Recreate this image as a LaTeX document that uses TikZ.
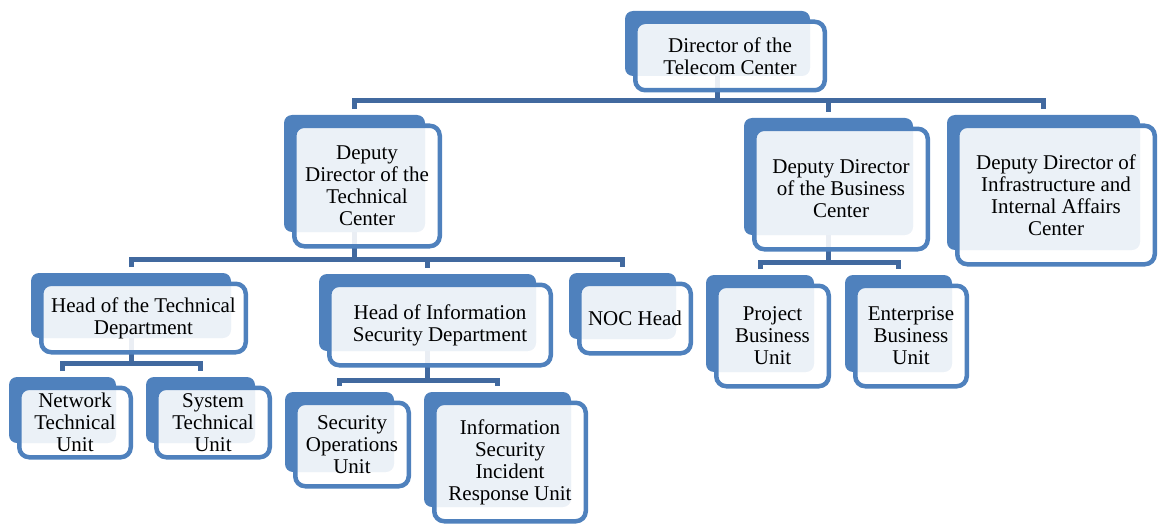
\documentclass[tikz,border=0pt]{standalone}
\usepackage{fontspec}
\setmainfont{Liberation Serif}
\pgfdeclarelayer{bk}\pgfdeclarelayer{cn}\pgfsetlayers{bk,cn,main}
\definecolor{boxblue}{HTML}{4F81BD}
\definecolor{connblue}{HTML}{41699F}
\tikzset{
 backbox/.style={fill=boxblue, rounded corners=8pt, inner sep=0pt, outer sep=0pt},
 frontbox/.style={draw=boxblue, line width=4.5pt, fill=white, fill opacity=0.89, text opacity=1, rounded corners=10pt, inner sep=0pt, outer sep=0pt, align=center, font=\rmfamily\fontsize{21}{22}\selectfont},
 conn/.style={draw=connblue, line width=5pt},
}
\newcommand\obox[6]{%
 \begin{pgfonlayer}{bk}
 \node[backbox, minimum width={(#4-#2-9)*1pt}, minimum height={(#5-#3-8)*1pt}] (#1b) at ({(#2+#4-25)/2},{(#3+#5-22)/2}) {};
 \end{pgfonlayer}
 \node[frontbox, minimum width={(#4-#2-4.5)*1pt}, minimum height={(#5-#3-4.5)*1pt}] (#1) at ({(#2+#4)/2},{(#3+#5)/2+1.5}) {#6};
}
\begin{document}
\begin{tikzpicture}[x=1pt,y=-1pt]
\useasboundingbox (0,0) rectangle (1158,524);
\obox{dir}{633}{18}{827}{91}{Director of the\\Telecom Center}
\obox{dtc}{292}{122}{442}{247}{Deputy\\Director of the\\Technical\\Center}
\obox{dbc}{752}{125}{930}{250}{Deputy Director\\of the Business\\Center}
\obox{dia}{955}{122}{1157}{265}{Deputy Director of\\Infrastructure and\\Internal Affairs\\Center}
\obox{htd}{39}{280}{248}{353}{Head of the Technical\\Department}
\obox{ntu}{17}{384}{133}{458}{Network\\Technical\\Unit}
\obox{stu}{154}{384}{272}{458}{System\\Technical\\Unit}
\obox{hisd}{327}{281}{553}{366}{Head of Information\\Security Department}
\obox{noc}{577}{280}{693}{354}{NOC Head}
\obox{sou}{293}{399}{411}{487}{Security\\Operations\\Unit}
\obox{isir}{432}{399}{588}{522}{Information\\Security\\Incident\\Response Unit}
\obox{pbu}{714}{282}{831}{387}{Project\\Business\\Unit}
\obox{ebu}{853}{282}{969}{387}{Enterprise\\Business\\Unit}
\coordinate (bus1) at (0,101);
\coordinate (bus2) at (0,259);
\coordinate (bus3) at (0,262);
\coordinate (bus4) at (0,363);
\coordinate (bus5) at (0,380);
\begin{pgfonlayer}{cn}
\draw[conn] (dirb.south) -- (dirb.south |- bus1);
\draw[conn] ([yshift=6pt]dtcb.north) -- (dtcb.north |- bus1) -- (diab.north |- bus1) -- ([yshift=6pt]diab.north);
\draw[conn] (dbcb.north |- bus1) -- ([yshift=6pt]dbcb.north);
\draw[conn] (dtcb.south) -- (dtcb.south |- bus2);
\draw[conn] ([yshift=6pt]htdb.north) -- (htdb.north |- bus2) -- (nocb.north |- bus2) -- ([yshift=6pt]nocb.north);
\draw[conn] (hisdb.north |- bus2) -- ([yshift=6pt]hisdb.north);
\draw[conn] (dbcb.south) -- (dbcb.south |- bus3);
\draw[conn] ([yshift=6pt]pbub.north) -- (pbub.north |- bus3) -- (ebub.north |- bus3) -- ([yshift=6pt]ebub.north);
\draw[conn] (htdb.south) -- (htdb.south |- bus4);
\draw[conn] ([yshift=6pt]ntub.north) -- (ntub.north |- bus4) -- (stub.north |- bus4) -- ([yshift=6pt]stub.north);
\draw[conn] (hisdb.south) -- (hisdb.south |- bus5);
\draw[conn] ([yshift=6pt]soub.north) -- (soub.north |- bus5) -- (isirb.north |- bus5) -- ([yshift=6pt]isirb.north);
\end{pgfonlayer}
\end{tikzpicture}
\end{document}
